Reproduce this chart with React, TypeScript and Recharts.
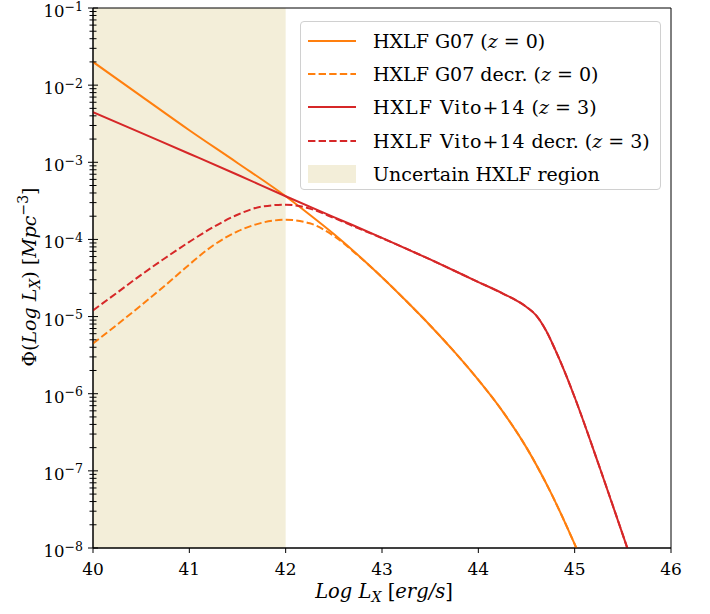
import React from "react";
import { LineChart, Line, XAxis, YAxis, ReferenceArea } from "recharts";

// Hard X-ray luminosity function, Phi(Log L_X) in Mpc^-3 per dex
const lumG07 = [40, 40.5, 41, 41.5, 42, 42.25, 42.5, 42.75, 43, 43.25, 43.5, 43.75, 44, 44.25, 44.5, 44.75, 45, 45.1];
const phiG07 = [2.0e-2, 7.2e-3, 2.6e-3, 9.8e-4, 3.63e-4, 2.09e-4, 1.175e-4, 6.3e-5, 3.24e-5, 1.6e-5, 7.67e-6, 3.51e-6, 1.51e-6, 5.96e-7, 2.0e-7, 5.3e-8, 1.12e-8, 5.75e-9];

const lumG07Decr = [40, 40.25, 40.5, 40.75, 41, 41.25, 41.5, 41.75, 42, 42.25, 42.5, 42.75, 43, 43.25, 43.5, 43.75, 44, 44.25, 44.5, 44.75, 45, 45.1];
const phiG07Decr = [4.47e-6, 7.85e-6, 1.4e-5, 2.54e-5, 4.73e-5, 8.4e-5, 1.27e-4, 1.64e-4, 1.8e-4, 1.62e-4, 1.11e-4, 6.2e-5, 3.24e-5, 1.6e-5, 7.67e-6, 3.51e-6, 1.51e-6, 5.96e-7, 2.0e-7, 5.3e-8, 1.12e-8, 5.75e-9];

const lumVito = [40, 40.5, 41, 41.5, 42, 42.5, 43, 43.5, 44, 44.25, 44.5, 44.6, 44.7, 44.8, 44.9, 45, 45.25, 45.5, 45.6];
const phiVito = [4.47e-3, 2.4e-3, 1.29e-3, 6.9e-4, 3.63e-4, 1.95e-4, 1.05e-4, 5.5e-5, 2.8e-5, 2.0e-5, 1.33e-5, 1.035e-5, 6.68e-6, 3.67e-6, 1.88e-6, 9.0e-7, 1.2e-7, 1.48e-8, 6.3e-9];

const lumVitoDecr = [40, 40.25, 40.5, 40.75, 41, 41.25, 41.5, 41.75, 42, 42.25, 42.5, 42.75, 43, 43.5, 44, 44.25, 44.5, 44.6, 44.7, 44.8, 44.9, 45, 45.25, 45.5, 45.6];
const phiVitoDecr = [1.2e-5, 2.04e-5, 3.47e-5, 5.75e-5, 9.3e-5, 1.45e-4, 2.09e-4, 2.66e-4, 2.82e-4, 2.51e-4, 1.9e-4, 1.4e-4, 1.04e-4, 5.5e-5, 2.8e-5, 2.0e-5, 1.33e-5, 1.035e-5, 6.68e-6, 3.67e-6, 1.88e-6, 9.0e-7, 1.2e-7, 1.48e-8, 6.3e-9];

const X_TICKS = [40, 41, 42, 43, 44, 45, 46];
const DECADES = [-8, -7, -6, -5, -4, -3, -2, -1];
const MINOR_MULTS = [2, 3, 4, 5, 6, 7, 8, 9];
const UNCERTAIN_RANGE = [40, 42];

const ORANGE = "#ff7f0e";
const RED = "#d62728";
const SHADE = "#f3eed9";
const INK = "#000";
const FONT = "'DejaVu Serif', serif";

const zip = (xs: number[], ys: number[]) => xs.map((lum, i) => ({ lum, phi: ys[i] }));

const yTicks = [
  ...DECADES.map((e) => Math.pow(10, e)),
  ...DECADES.slice(0, -1).flatMap((e) => MINOR_MULTS.map((m) => m * Math.pow(10, e))),
].sort((a, b) => a - b);

function YTick(props: any) {
  const { x, y, payload } = props;
  const e = Math.log10(payload.value);
  const major = Math.abs(e - Math.round(e)) < 1e-6;
  const half = major ? 5 : 3.5;
  return (
    <g>
      <line x1={x - half} x2={x + half} y1={y} y2={y} stroke="#000" strokeWidth={1} />
      {major && (
        <text x={x - 10} y={y + 9} textAnchor="end" fontFamily={FONT} fontSize={16.5} fill={INK}>
          <tspan>10</tspan>
          <tspan dy={-6.5} fontSize={12.5}>{"\u2212" + Math.abs(Math.round(e))}</tspan>
        </text>
      )}
    </g>
  );
}

function XTick(props: any) {
  const { x, y, payload } = props;
  return (
    <g>
      <line x1={x} x2={x} y1={y} y2={y + 5} stroke="#000" strokeWidth={1} />
      <text x={x} y={y + 27} textAnchor="middle" fontFamily={FONT} fontSize={17} fill={INK}>
        {payload.value}
      </text>
    </g>
  );
}

function LegendSample({ color, dashed, patch }: { color: string; dashed?: boolean; patch?: boolean }) {
  return (
    <svg width={48} height={20} style={{ display: "block" }}>
      {patch ? (
        <rect x={0} y={1} width={48} height={18} fill={SHADE} />
      ) : (
        <line x1={0} x2={48} y1={10} y2={10} stroke={color} strokeWidth={2} strokeDasharray={dashed ? "7.4 3.2" : undefined} />
      )}
    </svg>
  );
}

const legendRows = [
  { name: "HXLF G07", wide: false, extra: "", z: "0", color: ORANGE, dashed: false },
  { name: "HXLF G07", wide: false, extra: " decr.", z: "0", color: ORANGE, dashed: true },
  { name: "HXLF Vito+14", wide: true, extra: "", z: "3", color: RED, dashed: false },
  { name: "HXLF Vito+14", wide: true, extra: " decr.", z: "3", color: RED, dashed: true },
];

function ChartLegend() {
  const row: React.CSSProperties = { height: 33.3, display: "flex", alignItems: "center" };
  return (
    <div
      style={{
        position: "absolute",
        left: 300,
        top: 21,
        width: 361,
        height: 169,
        boxSizing: "border-box",
        border: "1px solid #d0d0d0",
        borderRadius: 4,
        background: "rgba(255,255,255,0.8)",
        paddingTop: 2,
        paddingLeft: 7,
        fontFamily: FONT,
        fontSize: 19,
        color: INK,
        whiteSpace: "nowrap",
      }}
    >
      {legendRows.map((r, i) => (
        <div key={i} style={row}>
          <LegendSample color={r.color} dashed={r.dashed} />
          <span style={{ marginLeft: 17 }}>
            <span style={{ letterSpacing: r.wide ? 1 : 0 }}>{r.name}</span>
            {r.extra} (<i>z</i> = {r.z})
          </span>
        </div>
      ))}
      <div style={row}>
        <LegendSample color={SHADE} patch />
        <span style={{ marginLeft: 17 }}>Uncertain HXLF region</span>
      </div>
    </div>
  );
}

export default function App() {
  return (
    <div style={{ position: "absolute", left: 0, top: 0, width: 710, height: 614, background: "#fff" }}>
      <LineChart width={710} height={614} margin={{ top: 8, right: 39, bottom: 0, left: 0 }}>
        <ReferenceArea x1={UNCERTAIN_RANGE[0]} x2={UNCERTAIN_RANGE[1]} y1={1e-8} y2={1e-1} fill={SHADE} fillOpacity={1} stroke="none" />
        <XAxis
          dataKey="lum"
          type="number"
          domain={[40, 46]}
          ticks={X_TICKS}
          interval={0}
          allowDataOverflow
          height={66}
          tickSize={0}
          tickMargin={0}
          tickLine={false}
          axisLine={{ stroke: "#000", strokeWidth: 1 }}
          tick={(p: any) => <XTick {...p} />}
          label={{
            content: () => (
              <text x={384} y={598} textAnchor="middle" fontFamily={FONT} fontSize={19.5} fill={INK}>
                <tspan fontStyle="italic">Log L</tspan>
                <tspan fontStyle="italic" fontSize={14} dy={4}>X</tspan>
                <tspan dy={-4}> [</tspan>
                <tspan fontStyle="italic">erg/s</tspan>
                <tspan>]</tspan>
              </text>
            ),
          }}
        />
        <YAxis
          type="number"
          scale="log"
          domain={[1e-8, 1e-1]}
          ticks={yTicks}
          interval={0}
          allowDataOverflow
          width={93}
          tickSize={0}
          tickMargin={0}
          tickLine={false}
          axisLine={{ stroke: "#000", strokeWidth: 1 }}
          tick={(p: any) => <YTick {...p} />}
          label={{
            content: () => (
              <text
                x={36}
                y={277}
                transform="rotate(-90 36 277)"
                textAnchor="middle"
                fontFamily={FONT}
                fontSize={19}
                fill={INK}
              >
                <tspan>{"\u03A6("}</tspan>
                <tspan fontStyle="italic">Log L</tspan>
                <tspan fontStyle="italic" fontSize={14} dy={4}>X</tspan>
                <tspan dy={-4}>) [</tspan>
                <tspan fontStyle="italic">Mpc</tspan>
                <tspan fontSize={14} dy={-8}>{"\u22123"}</tspan>
                <tspan dy={8}>]</tspan>
              </text>
            ),
          }}
        />
        <Line data={zip(lumG07, phiG07)} dataKey="phi" type="monotone" stroke={ORANGE} strokeWidth={2} dot={false} isAnimationActive={false} />
        <Line data={zip(lumG07Decr, phiG07Decr)} dataKey="phi" type="monotone" stroke={ORANGE} strokeWidth={2} strokeDasharray="7.4 3.2" dot={false} isAnimationActive={false} />
        <Line data={zip(lumVito, phiVito)} dataKey="phi" type="monotone" stroke={RED} strokeWidth={2} dot={false} isAnimationActive={false} />
        <Line data={zip(lumVitoDecr, phiVitoDecr)} dataKey="phi" type="monotone" stroke={RED} strokeWidth={2} strokeDasharray="7.4 3.2" dot={false} isAnimationActive={false} />
        <ReferenceArea x1={40} x2={46} y1={1e-8} y2={1e-1} fill="none" stroke="#000" strokeWidth={1} />
      </LineChart>
      <ChartLegend />
    </div>
  );
}
